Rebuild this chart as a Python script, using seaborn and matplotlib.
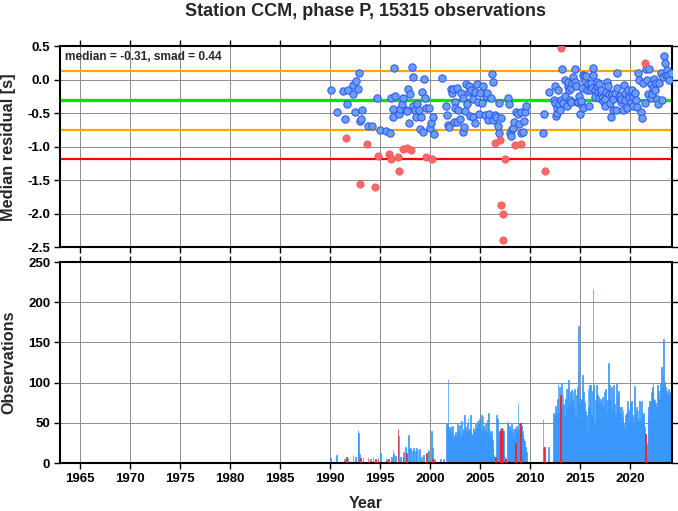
import numpy as np
import pandas as pd
import seaborn as sns
import matplotlib.pyplot as plt

sns.set_theme(style="ticks")
plt.rcParams['font.family'] = ['Liberation Sans', 'DejaVu Sans']
plt.rcParams['font.weight'] = 'bold'
plt.rcParams['axes.unicode_minus'] = False

# ---- residual medians (blue = normal, red = flagged)
blue_year = [1990.07, 1990.67, 1991.33, 1991.53, 1991.73, 1991.77, 1992.27, 1992.33, 1992.53, 1992.60,
             1992.77, 1992.87, 1993.00, 1993.10, 1993.20, 1993.80, 1994.20, 1994.67, 1995.00, 1995.60,
             1996.00, 1996.05, 1996.27, 1996.33, 1996.43, 1996.50, 1996.93, 1997.00, 1997.17, 1997.33,
             1997.60, 1997.73, 1997.80, 1997.93, 1998.00, 1998.20, 1998.27, 1998.33, 1998.50, 1998.60,
             1998.73, 1998.87, 1999.00, 1999.07, 1999.20, 1999.33, 1999.40, 1999.53, 1999.60, 1999.87,
             2000.00, 2000.07, 2000.27, 2000.40, 2001.20, 2001.60, 2001.67, 2001.83, 2001.93, 2002.13,
             2002.20, 2002.33, 2002.40, 2002.47, 2002.53, 2002.67, 2002.73, 2002.83, 2003.00, 2003.13,
             2003.27, 2003.33, 2003.43, 2003.53, 2003.60, 2003.73, 2003.87, 2003.93, 2004.00, 2004.07,
             2004.27, 2004.33, 2004.47, 2004.53, 2004.67, 2004.80, 2004.93, 2005.00, 2005.17, 2005.27,
             2005.47, 2005.60, 2005.73, 2005.80, 2005.93, 2006.07, 2006.17, 2006.27, 2006.33, 2006.47,
             2006.60, 2006.80, 2006.87, 2006.93, 2007.07, 2007.80, 2007.87, 2008.00, 2008.07, 2008.20,
             2008.33, 2008.40, 2008.60, 2008.80, 2008.93, 2009.07, 2009.13, 2009.27, 2009.40, 2009.53,
             2009.60, 2011.27, 2011.40, 2011.87, 2012.40, 2012.47, 2012.53, 2012.60, 2012.67, 2012.73,
             2012.83, 2012.93, 2013.00, 2013.07, 2013.20, 2013.33, 2013.47, 2013.53, 2013.67, 2013.80,
             2013.83, 2013.93, 2014.00, 2014.07, 2014.13, 2014.20, 2014.33, 2014.47, 2014.53, 2014.60,
             2014.67, 2014.80, 2014.93, 2015.00, 2015.07, 2015.13, 2015.20, 2015.27, 2015.33, 2015.40,
             2015.53, 2015.60, 2015.67, 2015.80, 2015.87, 2016.00, 2016.07, 2016.13, 2016.20, 2016.27,
             2016.33, 2016.47, 2016.53, 2016.67, 2016.73, 2016.80, 2016.87, 2016.93, 2017.07, 2017.13,
             2017.20, 2017.33, 2017.47, 2017.53, 2017.60, 2017.67, 2017.80, 2017.87, 2018.00, 2018.07,
             2018.20, 2018.27, 2018.33, 2018.47, 2018.60, 2018.67, 2018.73, 2018.87, 2019.00, 2019.07,
             2019.13, 2019.27, 2019.40, 2019.47, 2019.53, 2019.67, 2019.80, 2019.87, 2019.93, 2020.07,
             2020.20, 2020.27, 2020.33, 2020.47, 2020.60, 2020.67, 2020.80, 2020.93, 2021.07, 2021.20,
             2021.33, 2021.47, 2021.60, 2021.67, 2021.80, 2021.93, 2022.07, 2022.13, 2022.20, 2022.27,
             2022.40, 2022.53, 2022.60, 2022.67, 2022.80, 2022.93, 2023.07, 2023.20, 2023.33, 2023.40,
             2023.53, 2023.60, 2023.67, 2023.80, 2023.93, 2024.07]
blue_resid = [-0.16, -0.49, -0.17, -0.59, -0.37, -0.15, -0.08, -0.22, -0.49, -0.02,
              -0.14, 0.09, -0.62, -0.59, -0.45, -0.70, -0.70, -0.27, -0.76, -0.77,
              -0.80, -0.27, -0.56, -0.44, 0.17, -0.25, -0.51, -0.44, -0.36, -0.27,
              -0.45, -0.47, -0.14, -0.65, -0.21, 0.19, 0.04, -0.39, -0.46, -0.56,
              -0.36, -0.46, -0.74, -0.56, -0.19, -0.78, 0.01, -0.27, -0.43, -0.43,
              -0.73, -0.65, -0.56, -0.81, 0.02, -0.39, -0.53, -0.68, -0.71, -0.14,
              -0.20, -0.14, -0.64, -0.33, -0.43, -0.64, -0.13, -0.46, -0.59, -0.20,
              -0.28, -0.78, -0.71, -0.47, -0.06, -0.36, -0.10, -0.18, -0.55, -0.16,
              -0.29, -0.56, -0.65, -0.19, -0.07, -0.33, -0.52, -0.20, -0.35, -0.10,
              -0.53, -0.25, -0.20, -0.60, -0.52, -0.27, 0.08, -0.03, -0.60, -0.53,
              -0.56, -0.69, -0.80, -0.35, -0.58, -0.28, -0.36, -0.80, -0.85, -0.74,
              -0.73, -0.64, -0.48, -0.51, -0.67, -0.80, -0.48, -0.78, -0.62, -0.48,
              -0.39, -0.80, -0.52, -0.19, -0.31, -0.35, -0.10, -0.55, -0.50, -0.43,
              -0.16, -0.36, -0.46, -0.31, 0.16, -0.35, 0.00, -0.25, -0.39, -0.09,
              -0.03, -0.16, -0.30, -0.34, -0.12, -0.05, 0.04, 0.16, -0.04, -0.10,
              -0.34, -0.33, -0.25, -0.51, -0.36, -0.32, -0.13, 0.07, -0.42, 0.05,
              -0.02, 0.05, -0.15, -0.07, -0.39, -0.16, -0.08, -0.05, -0.12, 0.07,
              0.17, -0.15, -0.26, -0.10, -0.03, -0.19, -0.28, -0.07, -0.20, -0.16,
              -0.28, -0.32, -0.29, -0.40, -0.19, -0.03, -0.10, -0.21, -0.35, -0.56,
              -0.21, -0.45, -0.29, -0.20, -0.46, -0.12, 0.09, -0.26, -0.24, -0.33,
              -0.29, -0.46, -0.08, -0.30, -0.20, -0.43, -0.16, -0.24, -0.28, -0.34,
              -0.15, -0.40, -0.26, -0.20, -0.30, -0.41, 0.09, -0.01, -0.48, -0.57,
              -0.05, -0.35, 0.15, -0.01, -0.21, 0.15, -0.06, -0.27, -0.21, -0.13,
              0.01, -0.15, -0.05, -0.29, -0.36, -0.05, 0.10, -0.31, 0.04, 0.35,
              0.25, 0.07, 0.14, 0.07, -0.01, 0.10]

red_year = [1991.60, 1993.00, 1993.67, 1994.53, 1994.80, 1995.87, 1996.13, 1996.80, 1996.87, 1997.27,
            1997.67, 1998.07, 1999.60, 2000.20, 2006.53, 2007.00, 2007.13, 2007.27, 2007.33, 2007.53,
            2008.53, 2009.07, 2011.47, 2013.07, 2021.53]
red_resid = [-0.88, -1.56, -0.96, -1.61, -1.14, -1.11, -1.18, -1.15, -1.36, -1.03,
             -1.02, -1.05, -1.15, -1.18, -0.95, -0.90, -1.87, -2.01, -2.40, -1.19,
             -0.98, -0.97, -1.36, 0.47, 0.24]

median, smad = -0.31, 0.44

# ---- observation counts
early_year = [1990.05, 1990.65, 1991.45, 1991.75, 1992.25, 1992.50, 1992.75, 1992.85, 1992.95, 1993.30,
              1994.00, 1994.30, 1994.75, 1995.00, 1995.60, 1996.10, 1996.25, 1996.35, 1996.50, 1996.90,
              1997.00, 1997.40, 1997.55, 1997.85, 1997.95, 1998.05, 1998.20, 1998.35, 1998.50, 1998.65,
              1998.80, 1998.95, 1999.15, 1999.35, 1999.75, 1999.90, 2000.10, 2000.20, 2000.30, 2000.45]
early_obs = [6, 10, 5, 6, 10, 7, 41, 37, 11, 8,
             5, 8, 8, 12, 5, 7, 16, 11, 9, 33,
             8, 14, 20, 35, 17, 19, 15, 19, 15, 19,
             16, 17, 8, 10, 17, 15, 40, 19, 8, 5]

obs_2001_2009 = [5, 0, 0, 0, 5, 0, 0, 48, 50, 104, 45, 40,
                 45, 37, 46, 30, 30, 35, 38, 34, 48, 36, 40, 47,
                 34, 52, 36, 38, 42, 60, 45, 40, 50, 56, 38, 42,
                 60, 36, 34, 45, 42, 38, 48, 44, 52, 35, 50, 55,
                 42, 60, 40, 58, 46, 40, 50, 38, 54, 36, 62, 40,
                 35, 40, 28, 22, 10, 8, 6, 60, 55, 30, 38, 40,
                 42, 38, 36, 20, 40, 8, 5, 0, 50, 52, 45, 46,
                 40, 48, 38, 44, 30, 42, 44, 46, 40, 75, 42, 50,
                 50, 46, 40, 35, 30, 27, 20, 14, 0, 0, 0, 0]

obs_2011_2024 = [0, 0, 0, 55, 20, 0, 0, 0, 0, 0, 20, 0,
                 0, 0, 0, 0, 62, 58, 71, 62, 79, 101, 65, 95,
                 80, 99, 70, 85, 74, 60, 80, 92, 68, 90, 103, 75,
                 88, 91, 78, 90, 70, 92, 60, 85, 95, 111, 171, 74,
                 80, 78, 110, 70, 88, 76, 65, 60, 41, 92, 70, 97,
                 97, 60, 90, 216, 97, 50, 78, 97, 85, 70, 82, 75,
                 80, 75, 82, 72, 70, 88, 92, 78, 65, 80, 124, 97,
                 78, 95, 66, 88, 97, 74, 60, 99, 85, 66, 90, 70,
                 62, 70, 57, 66, 50, 45, 60, 62, 77, 55, 66, 50,
                 75, 77, 60, 45, 50, 96, 62, 70, 55, 66, 52, 77,
                 55, 77, 60, 50, 62, 45, 36, 21, 25, 62, 70, 77,
                 77, 88, 95, 99, 80, 78, 75, 70, 97, 82, 90, 80,
                 100, 119, 95, 110, 154, 101, 95, 90, 84, 88, 92, 86,
                 88, 85]

red_bar_year = [1991.60, 1993.05, 1993.75, 1994.55, 1994.82, 1995.90, 1996.80, 1997.25, 1997.65, 1999.60,
                2000.20, 2006.53, 2007.00, 2007.10, 2007.25, 2007.53, 2008.55, 2009.05, 2011.45, 2013.05,
                2021.55]
red_bar_obs = [7, 6, 6, 5, 5, 5, 42, 7, 12, 13,
               5, 8, 40, 43, 42, 5, 25, 50, 20, 85,
               36]

m1 = 2001 + (np.arange(len(obs_2001_2009)) + 0.5) / 12
m2 = 2011 + (np.arange(len(obs_2011_2024)) + 0.5) / 12
bars = pd.DataFrame({'year': np.concatenate([early_year, m1, m2]),
                     'obs': np.concatenate([early_obs, obs_2001_2009, obs_2011_2024])})
red_bars = pd.DataFrame({'year': red_bar_year, 'obs': red_bar_obs})

# ---- figure
fig = plt.figure(figsize=(6.78, 5.11), dpi=100)
ax1 = fig.add_axes([60 / 678, 264 / 511, 612 / 678, 201 / 511])
ax2 = fig.add_axes([60 / 678, 48 / 511, 612 / 678, 201 / 511])

ax1.axhline(median + smad, color='#ffa500', lw=1.6, zorder=2)
ax1.axhline(median - smad, color='#ffa500', lw=1.6, zorder=2)
ax1.axhline(median, color='#00e600', lw=2.4, zorder=2)
ax1.axhline(median - 2 * smad, color='#ff0000', lw=1.6, zorder=2)

sns.scatterplot(x=blue_year, y=blue_resid, ax=ax1, color='#6a9ff0', edgecolor='#2a50ff',
                s=28, linewidth=0.7, zorder=3)
sns.scatterplot(x=red_year, y=red_resid, ax=ax1, color='#f26a6a', edgecolor='#ff5050',
                s=28, linewidth=0.5, zorder=3)

ax1.text(0.008, 0.975, 'median = -0.31, smad = 0.44', transform=ax1.transAxes,
         fontsize=8.6, fontweight='bold', va='top', ha='left')

sns.histplot(data=bars, x='year', weights='obs', binwidth=1 / 12, binrange=(1963, 2024.25),
             ax=ax2, color='#1e88f5', alpha=0.9, edgecolor='#3a98ff', linewidth=0.5, zorder=2)
sns.histplot(data=red_bars, x='year', weights='obs', binwidth=1 / 12, binrange=(1963, 2024.25),
             ax=ax2, color='#ff0000', alpha=1, edgecolor='#ff2020', linewidth=0.5, zorder=3)

for ax in (ax1, ax2):
    ax.set_xlim(1963, 2024.2)
    ax.set_xticks(range(1965, 2021, 5))
    ax.grid(True, color='#8c8c8c', lw=0.7, zorder=0)
    ax.set_axisbelow(True)
    ax.tick_params(direction='out', length=4, width=1, top=True, right=True,
                   labelsize=9.5, pad=3, colors='black')
    for s in ax.spines.values():
        s.set_linewidth(1.5)
        s.set_color('black')
    ax.set_xlabel('')
    ax.set_ylabel('')

ax1.set_ylim(-2.5, 0.5)
ax1.set_yticks(np.arange(-2.5, 0.51, 0.5))
ax1.set_yticklabels([f'{v:.1f}' for v in np.arange(-2.5, 0.51, 0.5)])
ax1.tick_params(labelbottom=False)

ax2.set_ylim(0, 250)
ax2.set_yticks(range(0, 251, 50))

fig.text(366 / 678, 1 - 12 / 511, 'Station CCM, phase P, 15315 observations',
         ha='center', va='center', fontsize=13, fontweight='bold')
fig.text(9 / 678, 1 - 147 / 511, 'Median residual [s]', rotation=90,
         ha='center', va='center', fontsize=11.8, fontweight='bold')
fig.text(9 / 678, 1 - 362 / 511, 'Observations', rotation=90,
         ha='center', va='center', fontsize=11.7, fontweight='bold')
fig.text(366 / 678, 1 - 503 / 511, 'Year', ha='center', va='center',
         fontsize=11.5, fontweight='bold')

fig.savefig('out.png', dpi=100)
